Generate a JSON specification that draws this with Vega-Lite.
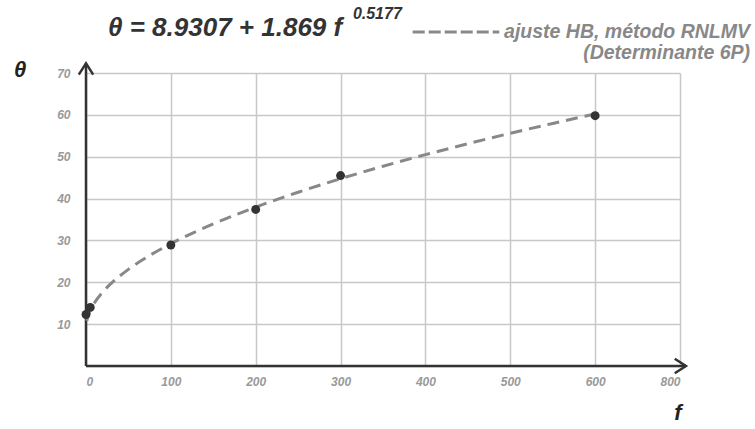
{
  "$schema": "https://vega.github.io/schema/vega-lite/v6.json",
  "autosize": {"type": "none"},
  "padding": {"left": 86, "top": 73, "right": 75, "bottom": 63},
  "width": 594,
  "height": 293,
  "background": "white",
  "config": {
    "view": {"stroke": null},
    "font": "Liberation Sans, Arial",
    "axis": {
      "domain": false,
      "ticks": false,
      "grid": true,
      "gridColor": "#c8c8c8",
      "gridWidth": 1.5,
      "labelColor": "#999999",
      "labelFont": "Liberation Sans, Arial",
      "labelFontStyle": "italic",
      "labelFontWeight": "bold",
      "labelFontSize": 12,
      "title": null
    }
  },
  "datasets": {
    "one": [{"k": 1}],
    "curve": [
      {"f": 1, "theta": 10.80},
      {"f": 2, "theta": 11.61},
      {"f": 5, "theta": 13.23},
      {"f": 10, "theta": 15.09},
      {"f": 20, "theta": 17.74},
      {"f": 30, "theta": 19.80},
      {"f": 50, "theta": 23.09},
      {"f": 75, "theta": 26.40},
      {"f": 100, "theta": 29.21},
      {"f": 150, "theta": 33.94},
      {"f": 200, "theta": 37.96},
      {"f": 250, "theta": 41.52},
      {"f": 300, "theta": 44.74},
      {"f": 350, "theta": 47.72},
      {"f": 400, "theta": 50.49},
      {"f": 450, "theta": 53.10},
      {"f": 500, "theta": 55.59},
      {"f": 550, "theta": 57.95},
      {"f": 600, "theta": 60.21}
    ],
    "points": [
      {"f": 0, "theta": 12.3},
      {"f": 5, "theta": 14.0},
      {"f": 100, "theta": 28.9},
      {"f": 200, "theta": 37.4},
      {"f": 300, "theta": 45.5},
      {"f": 600, "theta": 59.8}
    ]
  },
  "data": {"name": "one"},
  "layer": [
    {
      "data": {"name": "points"},
      "mark": {"type": "point", "opacity": 0},
      "encoding": {
        "x": {
          "field": "f", "type": "quantitative",
          "scale": {"domain": [0, 700], "nice": false, "zero": false},
          "axis": {
            "values": [0, 100, 200, 300, 400, 500, 600, 700],
            "labelExpr": "datum.value == 700 ? '800' : datum.label",
            "labelPadding": 10,
            "title": null
          }
        },
        "y": {
          "field": "theta", "type": "quantitative",
          "scale": {"domain": [0, 70], "nice": false, "zero": false},
          "axis": {
            "values": [0, 10, 20, 30, 40, 50, 60, 70],
            "labelExpr": "datum.value == 0 ? '' : datum.label",
            "labelPadding": 16,
            "title": null
          }
        }
      }
    },
    {
      "mark": {"type": "rule", "color": "#333333", "strokeWidth": 2.5},
      "encoding": {
        "x": {"datum": 0, "type": "quantitative"},
        "x2": {"datum": 707},
        "y": {"datum": 0, "type": "quantitative"}
      }
    },
    {
      "mark": {"type": "rule", "color": "#333333", "strokeWidth": 2.5},
      "encoding": {
        "x": {"datum": 0, "type": "quantitative"},
        "y": {"datum": 0, "type": "quantitative"},
        "y2": {"datum": 72.2}
      }
    },
    {
      "mark": {"type": "point", "shape": "M-0.9,1.4L0,0L0.9,1.4", "filled": false, "stroke": "#333333", "strokeWidth": 2.5, "size": 256, "opacity": 1},
      "encoding": {
        "x": {"datum": 0, "type": "quantitative"},
        "y": {"datum": 72.3, "type": "quantitative"}
      }
    },
    {
      "mark": {"type": "point", "shape": "M-1.4,-0.9L0,0L-1.4,0.9", "filled": false, "stroke": "#333333", "strokeWidth": 2.5, "size": 256, "opacity": 1},
      "encoding": {
        "x": {"datum": 707, "type": "quantitative"},
        "y": {"datum": 0, "type": "quantitative"}
      }
    },
    {
      "data": {"name": "curve"},
      "mark": {"type": "line", "color": "#888888", "strokeWidth": 3, "strokeDash": [12, 7], "interpolate": "monotone"},
      "encoding": {
        "x": {"field": "f", "type": "quantitative"},
        "y": {"field": "theta", "type": "quantitative"}
      }
    },
    {
      "data": {"name": "points"},
      "mark": {"type": "circle", "color": "#333333", "size": 80, "opacity": 1},
      "encoding": {
        "x": {"field": "f", "type": "quantitative"},
        "y": {"field": "theta", "type": "quantitative"}
      }
    },
    {
      "mark": {"type": "text", "text": "θ", "align": "center", "baseline": "middle", "fontSize": 22, "fontWeight": "bold", "fontStyle": "italic", "color": "#222222"},
      "encoding": {
        "x": {"datum": -77.5, "type": "quantitative"},
        "y": {"datum": 70.8, "type": "quantitative"}
      }
    },
    {
      "mark": {"type": "text", "text": "f", "align": "center", "baseline": "middle", "fontSize": 22, "fontWeight": "bold", "fontStyle": "italic", "color": "#222222"},
      "encoding": {
        "x": {"datum": 697.6, "type": "quantitative"},
        "y": {"datum": -11.2, "type": "quantitative"}
      }
    },
    {
      "mark": {"type": "text", "text": "θ = 8.9307 + 1.869 f", "align": "left", "baseline": "alphabetic", "fontSize": 26, "fontWeight": "bold", "fontStyle": "italic", "color": "#333333"},
      "encoding": {
        "x": {"datum": 25.9, "type": "quantitative"},
        "y": {"datum": 78.8, "type": "quantitative"}
      }
    },
    {
      "mark": {"type": "text", "text": "0.5177", "align": "left", "baseline": "alphabetic", "fontSize": 16, "fontWeight": "bold", "fontStyle": "italic", "color": "#333333"},
      "encoding": {
        "x": {"datum": 314.5, "type": "quantitative"},
        "y": {"datum": 82.9, "type": "quantitative"}
      }
    },
    {
      "mark": {"type": "rule", "color": "#888888", "strokeWidth": 3, "strokeDash": [12, 4]},
      "encoding": {
        "x": {"datum": 385, "type": "quantitative"},
        "x2": {"datum": 487},
        "y": {"datum": 79.8, "type": "quantitative"}
      }
    },
    {
      "mark": {"type": "text", "text": "ajuste HB, método RNLMV", "align": "right", "baseline": "middle", "fontSize": 19.5, "fontWeight": "bold", "fontStyle": "italic", "color": "#888888"},
      "encoding": {
        "x": {"datum": 782.5, "type": "quantitative"},
        "y": {"datum": 79.8, "type": "quantitative"}
      }
    },
    {
      "mark": {"type": "text", "text": "(Determinante 6P)", "align": "right", "baseline": "middle", "fontSize": 19.5, "fontWeight": "bold", "fontStyle": "italic", "color": "#888888"},
      "encoding": {
        "x": {"datum": 782.5, "type": "quantitative"},
        "y": {"datum": 74.8, "type": "quantitative"}
      }
    }
  ]
}
